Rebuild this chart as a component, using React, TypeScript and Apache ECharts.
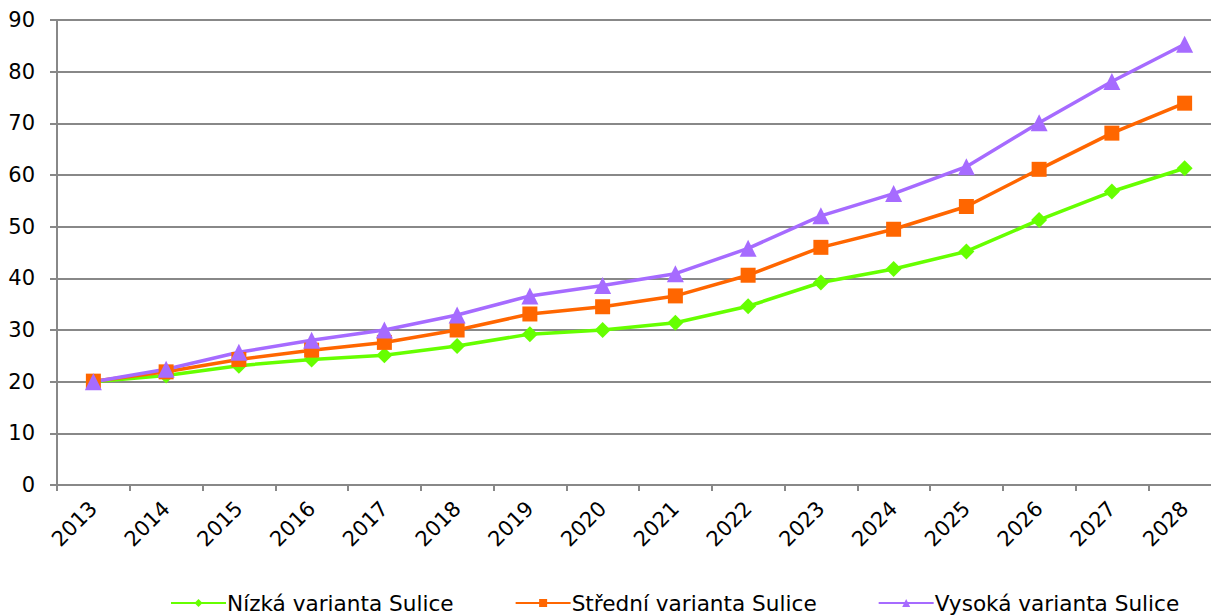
import React, { useEffect, useRef } from "react";
import * as echarts from "echarts";

const years = ["2013","2014","2015","2016","2017","2018","2019","2020","2021","2022","2023","2024","2025","2026","2027","2028"];
const nizka = [20, 21.2, 23.1, 24.3, 25.1, 26.9, 29.2, 30.0, 31.4, 34.6, 39.2, 41.8, 45.2, 51.3, 56.8, 61.3];
const stredni = [20.1, 21.9, 24.3, 26.1, 27.6, 30.0, 33.1, 34.5, 36.6, 40.6, 46.0, 49.5, 53.9, 61.1, 68.1, 73.9];
const vysoka = [20, 22.4, 25.7, 28.0, 30.0, 32.9, 36.6, 38.6, 40.9, 45.8, 52.1, 56.4, 61.6, 70.1, 78.1, 85.3];
const seriesNames = ["Nízká varianta Sulice", "Střední varianta Sulice", "Vysoká varianta Sulice"];
const colors = ["#66FF00", "#FF6600", "#A66BFF"];

const FONT = "DejaVu Sans";

export default function App() {
  const ref = useRef<HTMLDivElement>(null);
  useEffect(() => {
    if (!ref.current) return;
    const chart = echarts.init(ref.current, undefined, { renderer: "svg" });
    const mk = (name: string, data: number[], color: string, symbol: string, size: number) => ({
      name,
      type: "line",
      data,
      color,
      symbol,
      symbolSize: size,
      showAllSymbol: true,
      lineStyle: { color, width: 3.5 },
      itemStyle: { color },
    });
    chart.setOption({
      animation: false,
      backgroundColor: "#fff",
      textStyle: { fontFamily: FONT },
      grid: { left: 57, right: 11, top: 20, bottom: 131, containLabel: false },
      legend: {
        top: 587,
        left: 165,
        itemWidth: 55,
        itemHeight: 10,
        itemGap: 61,
        textStyle: { fontFamily: FONT, fontSize: 21.6, color: "#000", padding: [0, 0, 0, -4] },
        data: seriesNames,
      },
      xAxis: {
        type: "category",
        data: years,
        boundaryGap: true,
        axisLine: { lineStyle: { color: "#888", width: 2 } },
        axisTick: { show: true, length: 6, lineStyle: { color: "#888", width: 2 } },
        axisLabel: {
          rotate: 45,
          fontFamily: FONT,
          fontSize: 21,
          color: "#000",
          margin: 20,
          interval: 0,
        },
      },
      yAxis: {
        type: "value",
        min: 0,
        max: 90,
        interval: 10,
        axisLine: { show: true, lineStyle: { color: "#888", width: 2 } },
        axisTick: { show: true, length: 7, lineStyle: { color: "#888", width: 2 } },
        splitLine: { lineStyle: { color: "#888", width: 2 } },
        axisLabel: { fontFamily: FONT, fontSize: 21, color: "#000", margin: 22 },
      },
      series: [
        mk(seriesNames[0], nizka, colors[0], "diamond", 16),
        mk(seriesNames[1], stredni, colors[1], "rect", 15),
        mk(seriesNames[2], vysoka, colors[2], "triangle", 17),
      ],
    });
    return () => chart.dispose();
  }, []);
  return (
    <div style={{ position: "fixed", left: 0, top: 0, width: 1211, height: 616, overflow: "hidden", background: "#fff" }}>
      <div ref={ref} style={{ width: 1232, height: 616 }} />
    </div>
  );
}
